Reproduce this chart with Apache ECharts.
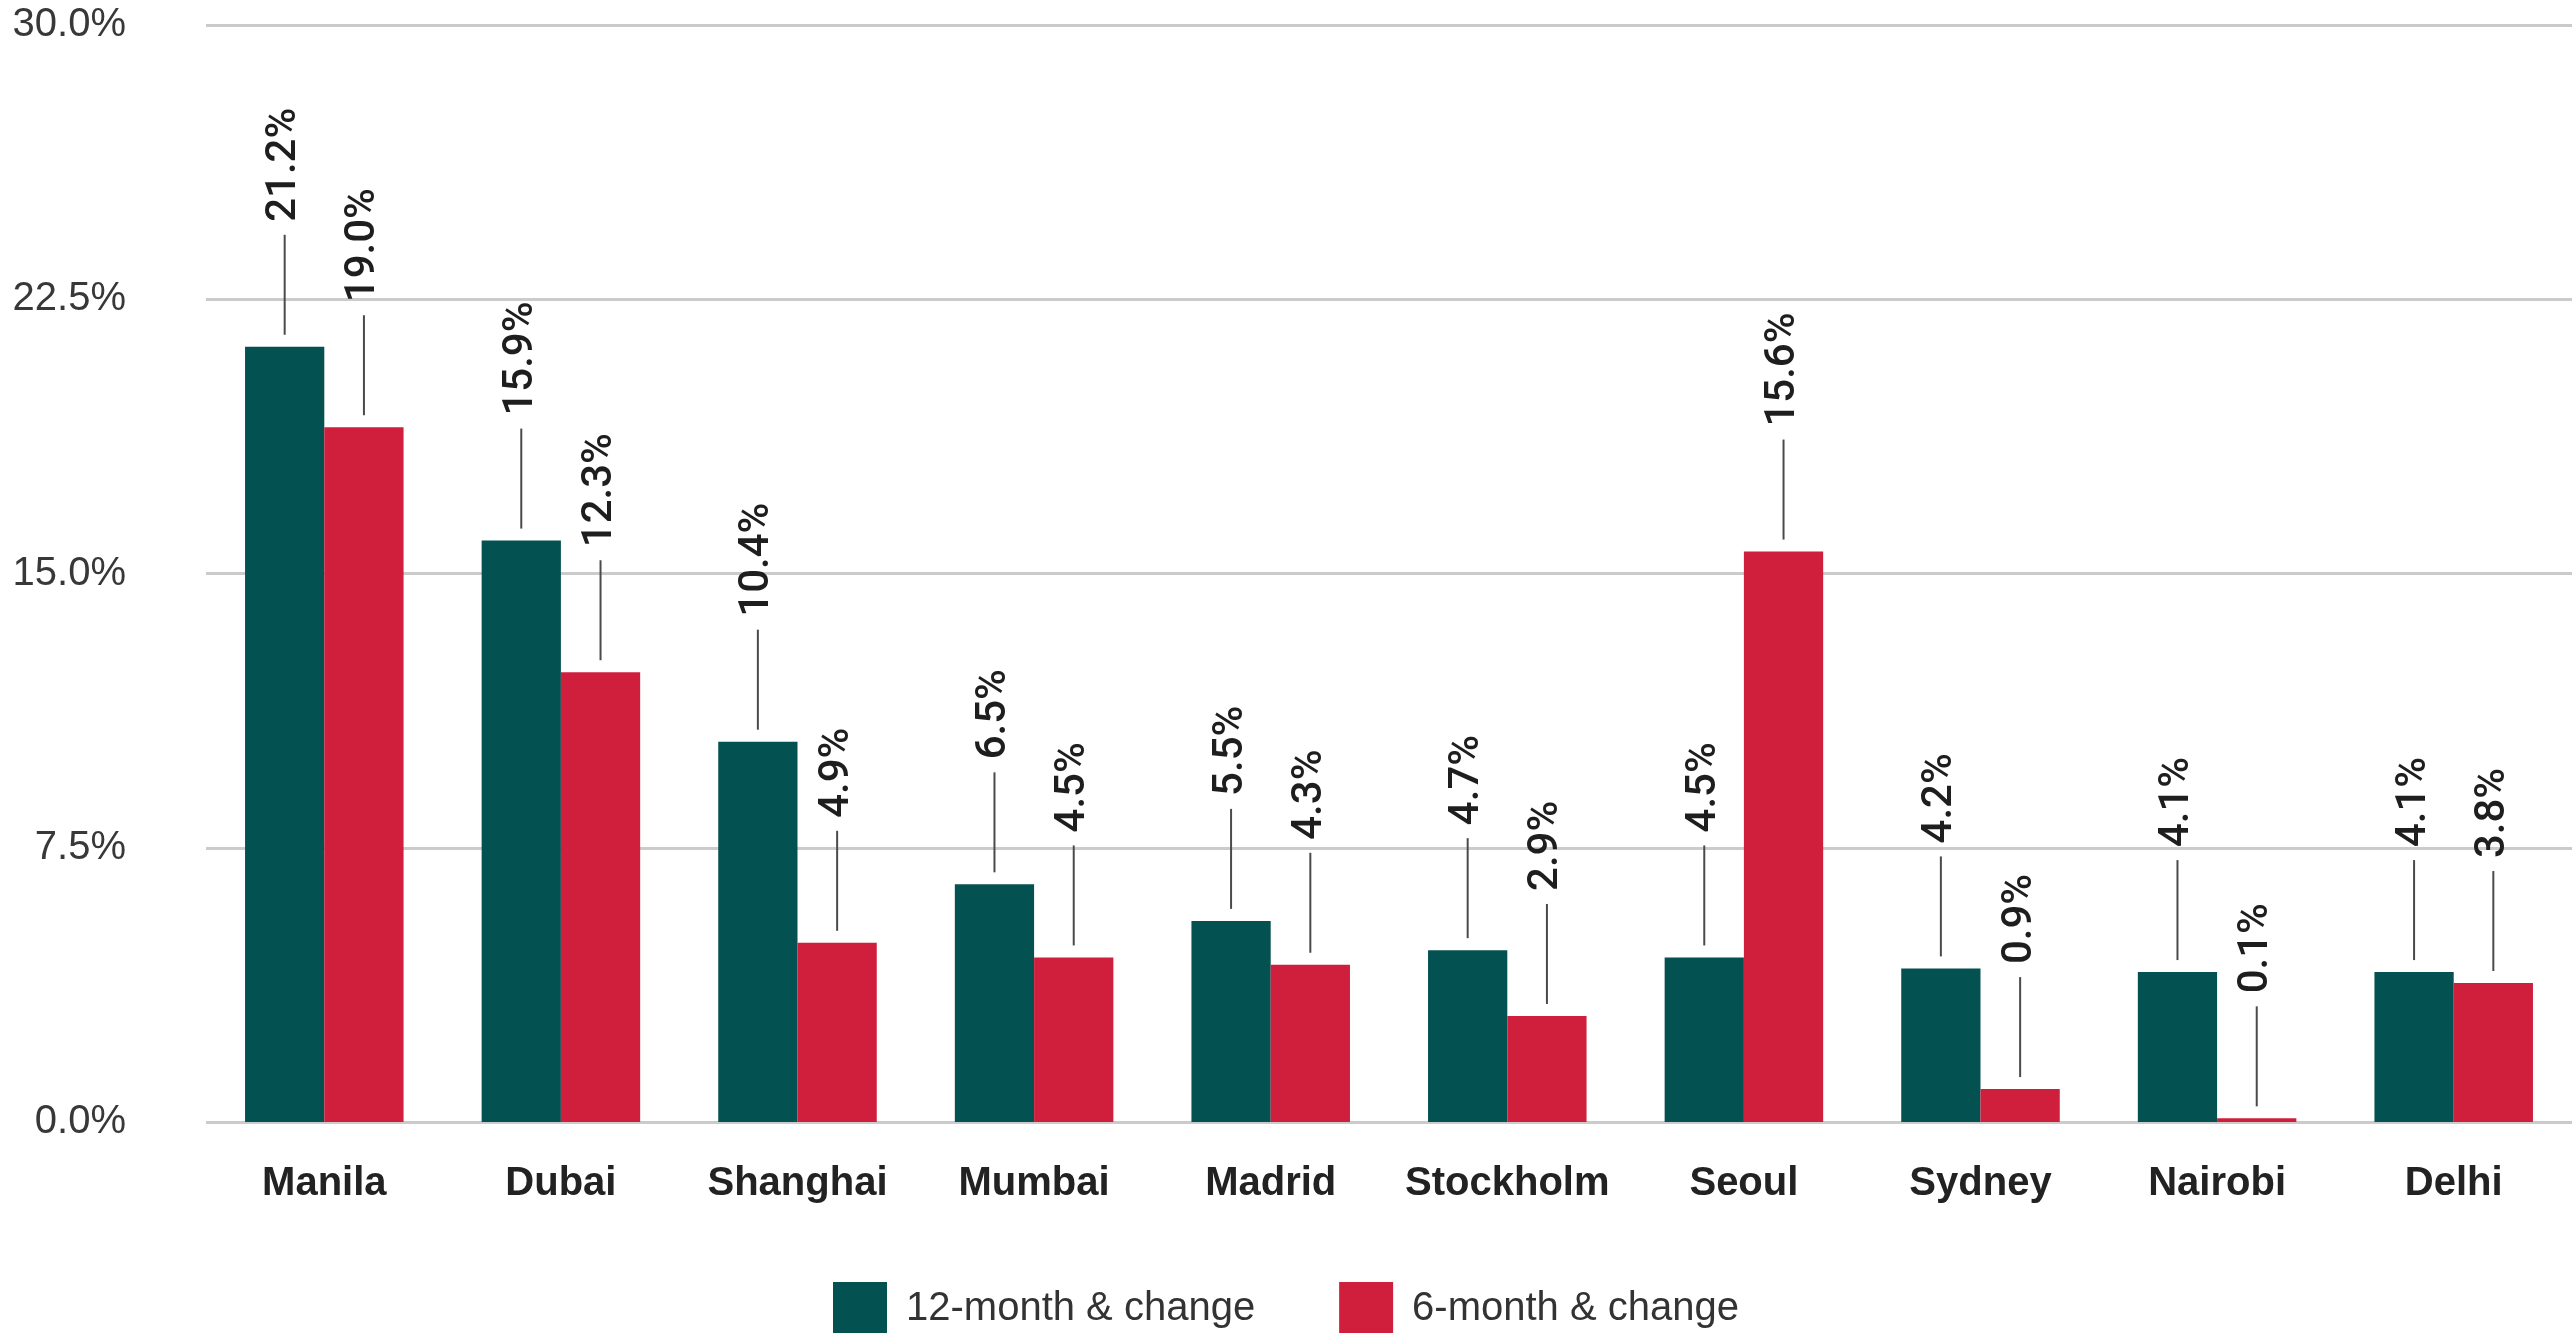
<!DOCTYPE html>
<html>
<head>
<meta charset="utf-8">
<script src="https://cdn.jsdelivr.net/npm/echarts@6/dist/echarts.min.js"></script>
<style>
  html, body { margin: 0; padding: 0; background: #ffffff; }
  #chart { width: 2572px; height: 1333px; }
</style>
</head>
<body>
<div id="chart"></div>
<script>
// Cities and their rent growth over two periods
const cities = ['Manila', 'Dubai', 'Shanghai', 'Mumbai', 'Madrid', 'Stockholm', 'Seoul', 'Sydney', 'Nairobi', 'Delhi'];
const change12m = [21.2, 15.9, 10.4, 6.5, 5.5, 4.7, 4.5, 4.2, 4.1, 4.1];
const change6m = [19.0, 12.3, 4.9, 4.5, 4.3, 2.9, 15.6, 0.9, 0.1, 3.8];
const seriesNames = ['12-month & change', '6-month & change'];

const TEAL = '#035251';
const RED = '#d01f3c';
const FONT = '"Liberation Sans", Arial, sans-serif';
const LABEL_FONT = 'Roboto, "Liberation Sans", Arial, sans-serif';
const CATEGORY_GAP = 0.33;

const pct = v => v.toFixed(1) + '%';

// Vertical leader line between each bar and its value label
function leaderLine(side) {
  return function (params, api) {
    const idx = api.value(0);
    const val = api.value(1);
    const top = api.coord([idx, val]);
    const catW = api.size([1, 0])[0];
    const barW = catW * (1 - CATEGORY_GAP) / 2;
    const x = top[0] + side * barW / 2;
    return {
      type: 'line',
      shape: { x1: x, y1: top[1] - 12, x2: x, y2: top[1] - 112 },
      style: { stroke: '#4a4a4a', lineWidth: 2 }
    };
  };
}

const barLabel = {
  show: true,
  position: 'top',
  distance: 125,
  rotate: 90,
  align: 'left',
  verticalAlign: 'middle',
  formatter: p => pct(p.value),
  fontFamily: LABEL_FONT,
  fontSize: 42,
  fontWeight: 500,
  color: '#1e1e1e'
};

const chart = echarts.init(document.getElementById('chart'));
chart.setOption({
  backgroundColor: '#ffffff',
  animation: false,
  grid: { left: 206, right: 0, top: 25, bottom: 211, containLabel: false },
  legend: {
    data: seriesNames,
    bottom: -8,
    left: 'center',
    itemWidth: 54,
    itemHeight: 54,
    itemGap: 84,
    icon: 'rect',
    textStyle: { fontFamily: FONT, fontSize: 40, color: '#333333', padding: [0, 0, 0, 14] }
  },
  xAxis: {
    type: 'category',
    data: cities,
    axisLine: { show: false },
    axisTick: { show: false },
    axisLabel: {
      interval: 0,
      margin: 42,
      fontFamily: FONT,
      fontSize: 40,
      fontWeight: 'bold',
      color: '#222222'
    }
  },
  yAxis: {
    type: 'value',
    min: 0,
    max: 30,
    interval: 7.5,
    axisLine: { show: false },
    axisTick: { show: false },
    splitLine: { lineStyle: { color: '#cbcbcb', width: 3 } },
    axisLabel: {
      margin: 80,
      fontFamily: FONT,
      fontSize: 40,
      color: '#383838',
      formatter: v => pct(v)
    }
  },
  series: [
    {
      name: seriesNames[0],
      type: 'bar',
      data: change12m,
      barGap: '0%',
      barCategoryGap: (CATEGORY_GAP * 100) + '%',
      itemStyle: { color: TEAL },
      label: barLabel
    },
    {
      name: seriesNames[1],
      type: 'bar',
      data: change6m,
      barGap: '0%',
      barCategoryGap: (CATEGORY_GAP * 100) + '%',
      itemStyle: { color: RED },
      label: barLabel
    },
    {
      type: 'custom',
      renderItem: leaderLine(-1),
      data: change12m.map((v, i) => [i, v]),
      silent: true,
      z: 3
    },
    {
      type: 'custom',
      renderItem: leaderLine(1),
      data: change6m.map((v, i) => [i, v]),
      silent: true,
      z: 3
    }
  ]
});
</script>
</body>
</html>
